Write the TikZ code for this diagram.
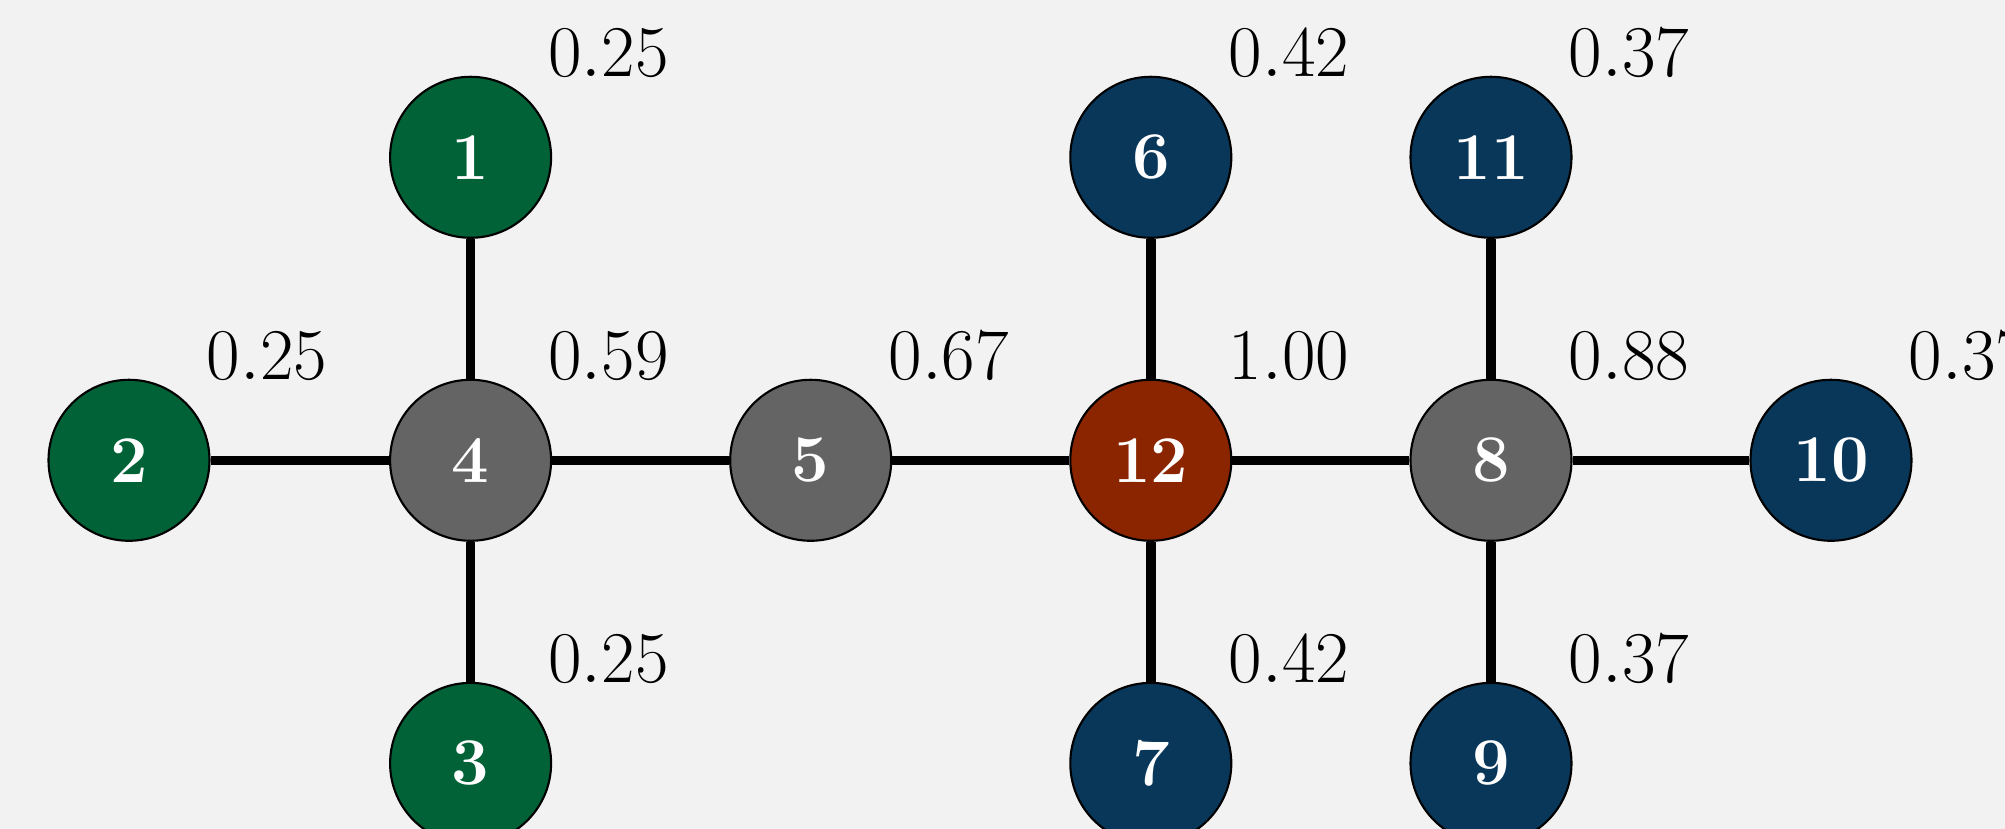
\documentclass[tikz,border=0pt]{standalone}
\usepackage{tikz}
\usetikzlibrary{positioning}
\usetikzlibrary{calc}
\definecolor{bggray}{HTML}{F2F2F2}
\definecolor{leafgreen}{HTML}{006236}
\definecolor{leafblue}{HTML}{08375A}
\definecolor{hubgray}{HTML}{646464}
\definecolor{rootred}{HTML}{8B2500}
\tikzstyle{vertex}=[circle,draw=black,line width=0.6pt,minimum size=1.61cm,inner sep=0pt,text=white,font=\fontsize{19}{22}\selectfont\bfseries]
\tikzstyle{weight} = [font=\fontsize{20}{24}\selectfont]
\tikzstyle{link} = [line width=2.7pt,black]

\begin{document}
\begin{tikzpicture}[x=1cm,y=1cm]
\fill[bggray] (0,0) rectangle (20.05,8.29);
\useasboundingbox (0,0) rectangle (20.05,8.29);

%vertices
    \foreach \pos/\name/\col in {{(4.706,6.717)/1/leafgreen}, {(1.29,3.687)/2/leafgreen}, {(4.706,0.656)/3/leafgreen}, {(4.706,3.687)/4/hubgray}, {(8.107,3.687)/5/hubgray}, {(11.508,6.717)/6/leafblue}, {(11.508,0.656)/7/leafblue}, {(14.91,3.687)/8/hubgray}, {(14.91,0.656)/9/leafblue}, {(18.31,3.687)/10/leafblue}, {(14.91,6.717)/11/leafblue}, {(11.508,3.687)/12/rootred}}
        \node[vertex,fill=\col] (\name) at \pos {\name};

%edges
    \foreach \source/\dest in {2/4, 1/4, 3/4, 4/5, 5/12, 6/12, 7/12, 12/8, 11/8, 9/8, 8/10}
                \draw[link] (\source) -- (\dest);

%values
    \foreach \name/\val in {1/0.25, 2/0.25, 3/0.25, 4/0.59, 5/0.67, 6/0.42, 7/0.42, 8/0.88, 9/0.37, 10/0.37, 11/0.37, 12/1.00}
        \node[weight] (w\name) at ($(\name)+(1.38,1.04)$) {$\val$};

\end{tikzpicture}
\end{document}
